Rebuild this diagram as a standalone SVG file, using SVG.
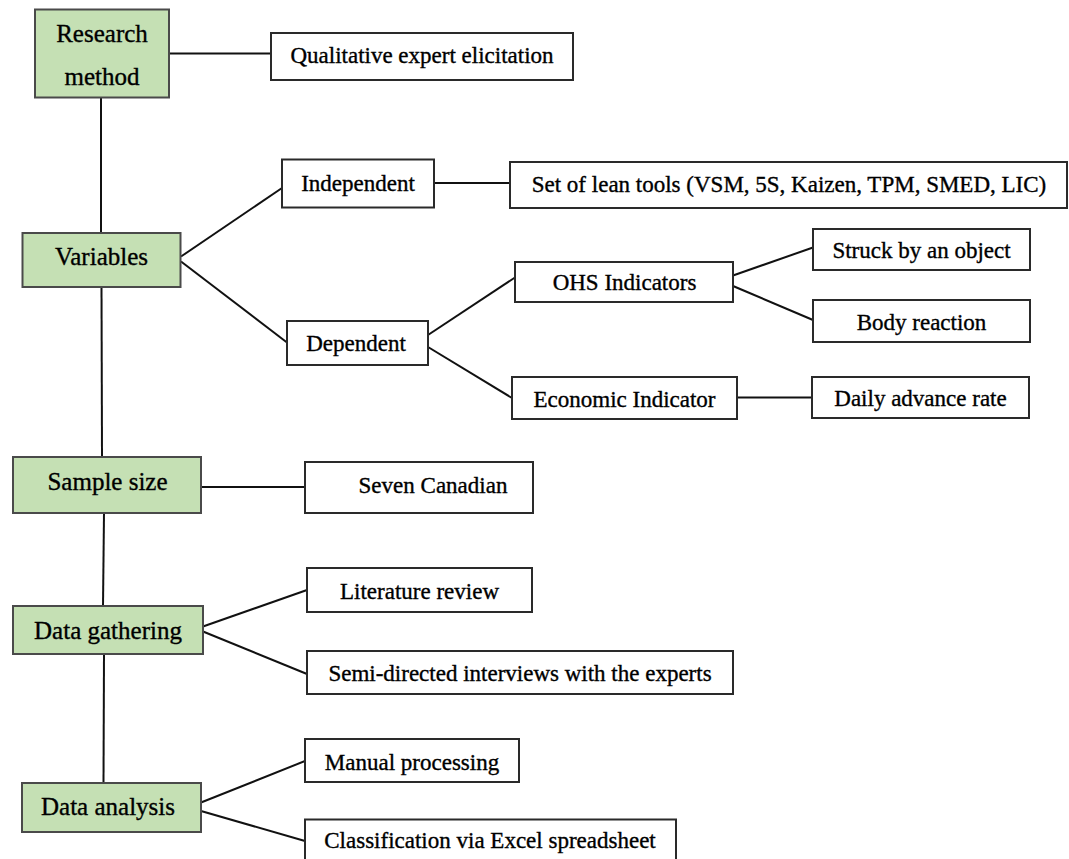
<svg xmlns="http://www.w3.org/2000/svg" width="1069" height="859" viewBox="0 0 1069 859">
<style>
  .g { fill: #c5e0b4; stroke: #4a4a4a; stroke-width: 2; }
  .w { fill: #ffffff; stroke: #2a2a2a; stroke-width: 2; }
  .t { font-family: "Liberation Serif", "Times New Roman", "DejaVu Serif", serif; fill: #000; stroke: #000; stroke-width: 0.35; text-anchor: middle; }
  .tg { font-size: 25px; }
  .tw { font-size: 23px; }
  .c line { stroke: #111; stroke-width: 2; fill: none; }
</style>
<rect width="1069" height="859" fill="#ffffff"/>
<g class="c" id="connectors">
  <line x1="169" y1="53.5" x2="271" y2="53.5"/>
  <line x1="101" y1="97.5" x2="101" y2="233"/>
  <line x1="181" y1="256.5" x2="282" y2="188"/>
  <line x1="181" y1="261.5" x2="287" y2="342.5"/>
  <line x1="434" y1="183" x2="510" y2="183"/>
  <line x1="428" y1="335" x2="515" y2="277.5"/>
  <line x1="428" y1="347" x2="512" y2="398"/>
  <line x1="733" y1="275.5" x2="813" y2="247.5"/>
  <line x1="733" y1="286" x2="813" y2="320"/>
  <line x1="737" y1="397.5" x2="812" y2="397.5"/>
  <line x1="101.5" y1="287" x2="102" y2="457"/>
  <line x1="201" y1="487" x2="305" y2="487"/>
  <line x1="104" y1="513" x2="103" y2="606"/>
  <line x1="203" y1="626.5" x2="307" y2="590"/>
  <line x1="203" y1="631.5" x2="307" y2="674"/>
  <line x1="104" y1="654" x2="103.5" y2="783"/>
  <line x1="201" y1="802.5" x2="305" y2="761"/>
  <line x1="201" y1="811" x2="305" y2="841"/>
</g>
<g id="research-method">
  <rect class="g" x="35" y="9.5" width="134" height="88"/>
  <text class="t tg" x="102" y="42">Research</text>
  <text class="t tg" x="102" y="85">method</text>
</g>
<g id="qualitative">
  <rect class="w" x="271" y="33" width="302" height="47"/>
  <text class="t tw" x="422" y="63">Qualitative expert elicitation</text>
</g>
<g id="variables">
  <rect class="g" x="22.5" y="233" width="158" height="54"/>
  <text class="t tg" x="101.5" y="265">Variables</text>
</g>
<g id="independent">
  <rect class="w" x="282" y="159.5" width="152" height="48"/>
  <text class="t tw" x="358" y="190.5">Independent</text>
</g>
<g id="lean-tools">
  <rect class="w" x="510" y="162" width="557" height="46"/>
  <text class="t tw" x="789" y="192">Set of lean tools (VSM, 5S, Kaizen, TPM, SMED, LIC)</text>
</g>
<g id="dependent">
  <rect class="w" x="287" y="321" width="141" height="44"/>
  <text class="t tw" x="356" y="351">Dependent</text>
</g>
<g id="ohs">
  <rect class="w" x="515" y="262" width="218" height="40"/>
  <text class="t tw" x="624.5" y="290">OHS Indicators</text>
</g>
<g id="economic">
  <rect class="w" x="512" y="377" width="225" height="42"/>
  <text class="t tw" x="624.5" y="406.5">Economic Indicator</text>
</g>
<g id="struck">
  <rect class="w" x="813" y="229" width="217" height="41"/>
  <text class="t tw" x="921.5" y="257.5">Struck by an object</text>
</g>
<g id="body">
  <rect class="w" x="813" y="300" width="217" height="42"/>
  <text class="t tw" x="921.5" y="329.5">Body reaction</text>
</g>
<g id="daily">
  <rect class="w" x="812" y="377" width="217" height="41"/>
  <text class="t tw" x="920.5" y="406">Daily advance rate</text>
</g>
<g id="sample-size">
  <rect class="g" x="13" y="457" width="188" height="56"/>
  <text class="t tg" x="107.5" y="490">Sample size</text>
</g>
<g id="seven">
  <rect class="w" x="305" y="462" width="228" height="51"/>
  <text class="t tw" x="433" y="493">Seven Canadian</text>
</g>
<g id="data-gathering">
  <rect class="g" x="13" y="606" width="190" height="48"/>
  <text class="t tg" x="108" y="639">Data gathering</text>
</g>
<g id="literature">
  <rect class="w" x="307" y="568" width="225" height="44"/>
  <text class="t tw" x="419.5" y="599">Literature review</text>
</g>
<g id="semi">
  <rect class="w" x="307" y="651" width="426" height="43"/>
  <text class="t tw" x="520" y="681">Semi-directed interviews with the experts</text>
</g>
<g id="data-analysis">
  <rect class="g" x="22" y="783" width="179" height="49"/>
  <text class="t tg" x="108" y="815">Data analysis</text>
</g>
<g id="manual">
  <rect class="w" x="305" y="739" width="214" height="43"/>
  <text class="t tw" x="412" y="770">Manual processing</text>
</g>
<g id="classification">
  <rect class="w" x="305" y="819.5" width="371" height="50"/>
  <text class="t tw" x="490" y="848">Classification via Excel spreadsheet</text>
</g>
</svg>
